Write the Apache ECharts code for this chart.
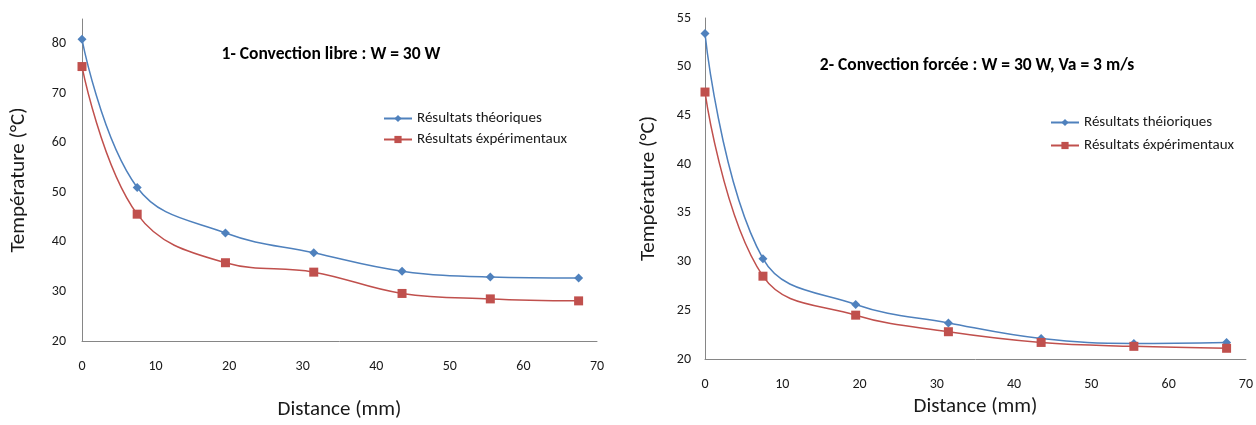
<!DOCTYPE html>
<html>
<head>
<meta charset="utf-8">
<script src="https://cdn.jsdelivr.net/npm/echarts@6/dist/echarts.min.js"></script>
<style>
html,body{margin:0;padding:0;background:#fff;}
#c{width:1256px;height:425px;}
</style>
</head>
<body>
<div id="c"></div>
<script>
// Data
const distances = [0, 7.5, 19.5, 31.5, 43.5, 55.5, 67.5];
const libreTheo = [80.9, 51.0, 41.8, 37.8, 34.1, 32.9, 32.7];
const libreExp = [75.4, 45.6, 35.8, 33.9, 29.6, 28.5, 28.1];
const forceeTheo = [53.4, 30.3, 25.6, 23.7, 22.1, 21.6, 21.7];
const forceeExp = [47.4, 28.5, 24.5, 22.8, 21.7, 21.3, 21.1];
const xTicks = [0, 10, 20, 30, 40, 50, 60, 70];
const title1 = '1- Convection libre : W = 30 W';
const title2 = '2- Convection forcée : W = 30 W, Va = 3 m/s';
const nameTheo1 = 'Résultats théoriques';
const nameTheo2 = 'Résultats théioriques';
const nameExp = 'Résultats éxpérimentaux';

const FONT = 'Carlito, Lato, sans-serif';
const BLUE = '#4F81BD';
const RED = '#C0504D';
const AXIS = '#868686';
const TXT = '#1a1a1a';

function pairs(xs, ys) { return xs.map((x, i) => [x, ys[i]]); }

function xAxisOf(gi, gap) {
  return {
    type: 'value', gridIndex: gi, min: xTicks[0], max: xTicks[xTicks.length - 1], interval: 10,
    name: 'Distance (mm)', nameLocation: 'middle', nameGap: gap,
    nameTextStyle: { fontFamily: FONT, fontSize: 21, color: TXT },
    axisLine: { show: true, lineStyle: { color: AXIS, width: 1 } },
    axisTick: { show: false }, splitLine: { show: false },
    axisLabel: { margin: 18, fontFamily: FONT, fontSize: 14, color: TXT }
  };
}
function yAxisOf(gi, min, max, interval, gap, margin) {
  return {
    type: 'value', gridIndex: gi, min: min, max: max, interval: interval,
    name: 'Température (°C)', nameLocation: 'middle', nameGap: gap, nameRotate: 90,
    nameTextStyle: { fontFamily: FONT, fontSize: 21, color: TXT },
    axisLine: { show: true, lineStyle: { color: AXIS, width: 1 } },
    axisTick: { show: false }, splitLine: { show: false },
    axisLabel: { margin: margin, fontFamily: FONT, fontSize: 14, color: TXT, showMaxLabel: max % interval === 0 }
  };
}
function seriesOf(name, gi, data, color, symbol, size) {
  return {
    type: 'line', name: name, xAxisIndex: gi, yAxisIndex: gi,
    data: pairs(distances, data), smooth: 0.4,
    symbol: symbol, symbolSize: size, showSymbol: true,
    lineStyle: { color: color, width: 1.5 },
    itemStyle: { color: color },
    emphasis: { disabled: true }
  };
}

const chart = echarts.init(document.getElementById('c'), null, { renderer: 'canvas' });
chart.setOption({
  animation: false,
  backgroundColor: '#fff',
  title: [
    { text: title1, left: 326, top: 41, textAlign: 'center',
      textStyle: { fontFamily: FONT, fontSize: 17.5, fontWeight: 'bold', color: '#000' } },
    { text: title2, left: 972, top: 52, textAlign: 'center',
      textStyle: { fontFamily: FONT, fontSize: 17.5, fontWeight: 'bold', color: '#000' } }
  ],
  legend: [
    { data: [nameTheo1, nameExp], orient: 'vertical', left: 378, top: 106, itemWidth: 28, itemHeight: 9, itemGap: 6,
      textStyle: { fontFamily: FONT, fontSize: 15, color: TXT }, selectedMode: false },
    { data: [nameTheo2, nameExp], orient: 'vertical', left: 1045, top: 110, itemWidth: 28, itemHeight: 9, itemGap: 8,
      textStyle: { fontFamily: FONT, fontSize: 15, color: TXT }, selectedMode: false }
  ],
  grid: [
    { left: 82, top: 19, width: 515, height: 323, containLabel: false },
    { left: 705, top: 18, width: 543, height: 341, containLabel: false }
  ],
  xAxis: [ xAxisOf(0, 58), xAxisOf(1, 37) ],
  yAxis: [ yAxisOf(0, 20, 85, 10, 53, 16), yAxisOf(1, 20, 55, 5, 46, 14) ],
  series: [
    seriesOf(nameTheo1, 0, libreTheo, BLUE, 'diamond', 9),
    seriesOf(nameExp, 0, libreExp, RED, 'rect', 9),
    seriesOf(nameTheo2, 1, forceeTheo, BLUE, 'diamond', 9),
    seriesOf(nameExp, 1, forceeExp, RED, 'rect', 9)
  ]
});
</script>
</body>
</html>
